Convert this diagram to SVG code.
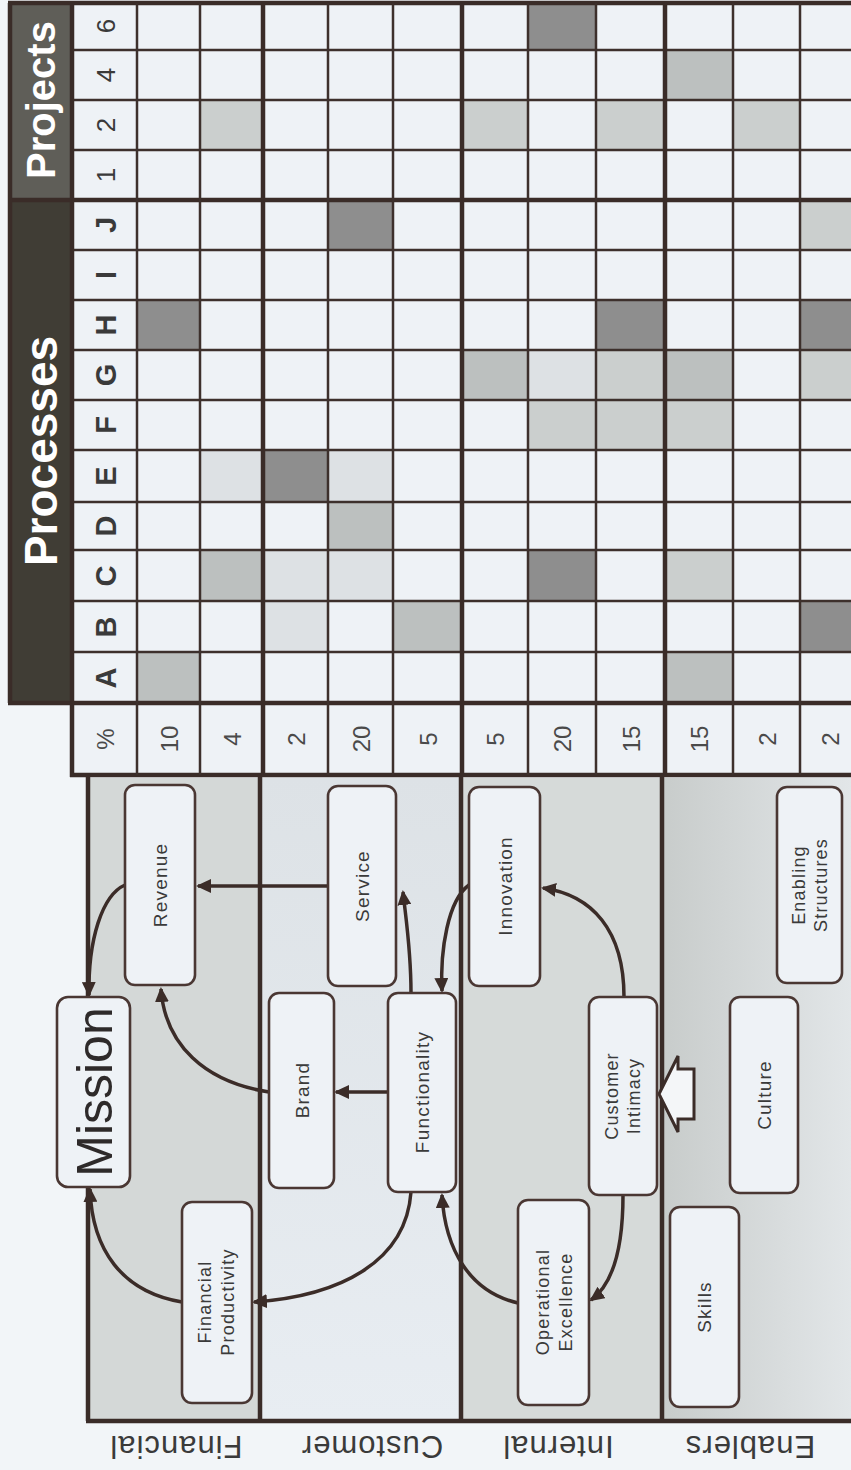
<svg xmlns="http://www.w3.org/2000/svg" width="851" height="1470" viewBox="0 0 851 1470">
<style>
text{font-family:"Liberation Sans",Arial,sans-serif;text-anchor:middle;dominant-baseline:central}
.hdr{fill:#ffffff;font-weight:bold}
.rl{fill:#3a3a3a;font-size:26px}
.rb{fill:#3a3a3a;font-size:29px;font-weight:bold}
.pv{fill:#4a4a4a;font-size:24px}
.lane{fill:#3a3a3a;font-size:31px;letter-spacing:1px}
.nt{fill:#3a3a3a;font-size:19px;letter-spacing:1.2px}
.nt2{fill:#3a3a3a;font-size:18px;letter-spacing:1.2px}
.thin{stroke:#3d302c;stroke-width:2.5;fill:none}
.thick{stroke:#3a2c28;stroke-width:4.5;fill:none}
.dk{fill:#8e8e8e}
.md{fill:#bcc0bf}
.lt{fill:#cbcfce}
.ft{fill:#dde1e4}
.box{fill:#eef2f6;stroke:#4a3733;stroke-width:2.6}
.conn{fill:none;stroke:#3b2c28;stroke-width:3.5}
</style>
<defs>
<marker id="ah" markerUnits="userSpaceOnUse" markerWidth="16" markerHeight="14" refX="13" refY="7" orient="auto">
<path d="M0,0 L15,7 L0,14 z" fill="#3b2c28"/>
</marker>
<linearGradient id="enb" x1="0" y1="0" x2="1" y2="0">
<stop offset="0" stop-color="#c8cccb"/>
<stop offset="1" stop-color="#e2e6e8"/>
</linearGradient>
<linearGradient id="cus" x1="0" y1="0" x2="0" y2="1">
<stop offset="0" stop-color="#dde2e6"/>
<stop offset="1" stop-color="#e8edf2"/>
</linearGradient>
</defs>
<rect x="0" y="0" width="851" height="1470" fill="#f2f5f8"/>

<g id="grid">
<rect x="10" y="3" width="62" height="197" fill="#5f5e58"/>
<rect x="10" y="200" width="62" height="503" fill="#403d35"/>
<text class="hdr" x="41" y="100" font-size="40" transform="rotate(-90 41 100)">Projects</text>
<text class="hdr" x="41" y="451" font-size="46" transform="rotate(-90 41 451)">Processes</text>
<rect x="72" y="3" width="790" height="772" fill="#eef2f6"/>
<!-- shaded cells -->
<rect class="dk" x="528" y="3" width="68" height="47"/>
<rect class="md" x="665" y="50" width="68" height="50"/>
<rect class="lt" x="200" y="100" width="63" height="50"/>
<rect class="lt" x="462" y="100" width="66" height="50"/>
<rect class="lt" x="596" y="100" width="69" height="50"/>
<rect class="lt" x="733" y="100" width="67" height="50"/>
<rect class="dk" x="328" y="200" width="65" height="50"/>
<rect class="lt" x="800" y="200" width="51" height="50"/>
<rect class="dk" x="137" y="300" width="63" height="50"/>
<rect class="dk" x="596" y="300" width="69" height="50"/>
<rect class="dk" x="800" y="300" width="51" height="50"/>
<rect class="md" x="462" y="350" width="66" height="50"/>
<rect class="ft" x="528" y="350" width="68" height="50"/>
<rect class="lt" x="596" y="350" width="69" height="50"/>
<rect class="md" x="665" y="350" width="68" height="50"/>
<rect class="lt" x="800" y="350" width="51" height="50"/>
<rect class="lt" x="528" y="400" width="68" height="50"/>
<rect class="lt" x="596" y="400" width="69" height="50"/>
<rect class="lt" x="665" y="400" width="68" height="50"/>
<rect class="ft" x="200" y="450" width="63" height="52"/>
<rect class="dk" x="263" y="450" width="65" height="52"/>
<rect class="ft" x="328" y="450" width="65" height="52"/>
<rect class="md" x="328" y="502" width="65" height="48"/>
<rect class="md" x="200" y="550" width="63" height="51"/>
<rect class="ft" x="263" y="550" width="65" height="51"/>
<rect class="ft" x="328" y="550" width="65" height="51"/>
<rect class="dk" x="528" y="550" width="68" height="51"/>
<rect class="lt" x="665" y="550" width="68" height="51"/>
<rect class="ft" x="263" y="601" width="65" height="51"/>
<rect class="md" x="393" y="601" width="69" height="51"/>
<rect class="dk" x="800" y="601" width="51" height="51"/>
<rect class="md" x="137" y="652" width="63" height="51"/>
<rect class="md" x="665" y="652" width="68" height="51"/>
<!-- horizontal lines -->
<path class="thin" d="M72,50H851M72,100H851M72,150H851M72,250H851M72,300H851M72,350H851M72,400H851M72,450H851M72,502H851M72,550H851M72,601H851M72,652H851"/>
<path class="thick" d="M8,3H851M8,200H851M8,703H851M70,775H851"/>
<!-- vertical lines -->
<path class="thin" d="M200,3V775M328,3V775M393,3V775M528,3V775M596,3V775M733,3V775M800,3V775"/>
<path class="thin" d="M137,3V775" stroke-width="3.2"/>
<path class="thick" d="M263,3V775M462,3V775M665,3V775M72,3V777M10,3V703"/>
<!-- row labels -->
<text class="rl" x="106" y="26" transform="rotate(-90 106 26)">6</text>
<text class="rl" x="106" y="75" transform="rotate(-90 106 75)">4</text>
<text class="rl" x="106" y="125" transform="rotate(-90 106 125)">2</text>
<text class="rl" x="106" y="175" transform="rotate(-90 106 175)">1</text>
<text class="rb" x="106" y="225" transform="rotate(-90 106 225)">J</text>
<text class="rb" x="106" y="275" transform="rotate(-90 106 275)">I</text>
<text class="rb" x="106" y="325" transform="rotate(-90 106 325)">H</text>
<text class="rb" x="106" y="375" transform="rotate(-90 106 375)">G</text>
<text class="rb" x="106" y="425" transform="rotate(-90 106 425)">F</text>
<text class="rb" x="106" y="476" transform="rotate(-90 106 476)">E</text>
<text class="rb" x="106" y="526" transform="rotate(-90 106 526)">D</text>
<text class="rb" x="106" y="576" transform="rotate(-90 106 576)">C</text>
<text class="rb" x="106" y="627" transform="rotate(-90 106 627)">B</text>
<text class="rb" x="106" y="678" transform="rotate(-90 106 678)">A</text>
<text class="pv" x="105" y="739" transform="rotate(-90 105 739)">%</text>
<text class="pv" x="169" y="739" transform="rotate(-90 169 739)">10</text>
<text class="pv" x="232" y="739" transform="rotate(-90 232 739)">4</text>
<text class="pv" x="296" y="739" transform="rotate(-90 296 739)">2</text>
<text class="pv" x="361" y="739" transform="rotate(-90 361 739)">20</text>
<text class="pv" x="428" y="739" transform="rotate(-90 428 739)">5</text>
<text class="pv" x="495" y="739" transform="rotate(-90 495 739)">5</text>
<text class="pv" x="562" y="739" transform="rotate(-90 562 739)">20</text>
<text class="pv" x="631" y="739" transform="rotate(-90 631 739)">15</text>
<text class="pv" x="699" y="739" transform="rotate(-90 699 739)">15</text>
<text class="pv" x="767" y="739" transform="rotate(-90 767 739)">2</text>
<text class="pv" x="830" y="739" transform="rotate(-90 830 739)">2</text>
</g>

<g id="lanes">
<rect x="88" y="778" width="172" height="642" fill="#d4d8d7"/>
<rect x="260" y="778" width="201" height="642" fill="url(#cus)"/>
<rect x="461" y="778" width="201" height="642" fill="#d6dad9"/>
<rect x="662" y="778" width="189" height="642" fill="url(#enb)"/>
<path class="thick" d="M88,777V1421M260,777V1421M461,777V1421M662,777V1421" stroke-width="3.5"/>
<path class="thick" d="M86,1421H851" stroke-width="4"/>
<text class="lane" x="176" y="1446" transform="rotate(180 176 1446)">Financial</text>
<text class="lane" x="372" y="1446" transform="rotate(180 372 1446)">Customer</text>
<text class="lane" x="558" y="1446" transform="rotate(180 558 1446)">Internal</text>
<text class="lane" x="750" y="1446" transform="rotate(180 750 1446)">Enablers</text>
</g>

<g id="connectors">
<path class="conn" marker-end="url(#ah)" d="M328,886 L198,886"/>
<path class="conn" marker-end="url(#ah)" d="M125,885 C102,895 88,940 89,995"/>
<path class="conn" marker-end="url(#ah)" d="M269,1092 C205,1082 165,1045 161,989"/>
<path class="conn" marker-end="url(#ah)" d="M388,1092 L336,1092"/>
<path class="conn" marker-end="url(#ah)" d="M411,993 C411,950 406,920 403,892"/>
<path class="conn" marker-end="url(#ah)" d="M469,885 C448,900 440,950 442,991"/>
<path class="conn" marker-end="url(#ah)" d="M624,997 C624,930 592,895 543,888"/>
<path class="conn" marker-end="url(#ah)" d="M411,1192 C406,1262 340,1296 254,1302"/>
<path class="conn" marker-end="url(#ah)" d="M182,1302 C122,1292 92,1250 90,1189"/>
<path class="conn" marker-end="url(#ah)" d="M518,1303 C470,1292 445,1250 442,1195"/>
<path class="conn" marker-end="url(#ah)" d="M623,1195 C623,1250 612,1285 591,1300"/>
<polygon points="659,1094 678,1056 678,1069 694,1069 694,1119 678,1119 678,1132" fill="#f4f6f8" stroke="#3b2c28" stroke-width="3" stroke-linejoin="miter"/>
</g>

<g id="mission">
<rect class="box" x="57" y="997" width="73" height="190" rx="11" stroke-width="4.5"/>
<text x="95" y="1092" font-size="50" fill="#2e2a2a" transform="rotate(-90 95 1092)">Mission</text>
</g>
<g id="revenue">
<rect class="box" x="125" y="785" width="70" height="200" rx="10"/>
<text class="nt" x="160" y="885" transform="rotate(-90 160 885)">Revenue</text>
</g>
<g id="service">
<rect class="box" x="328" y="786" width="68" height="200" rx="10"/>
<text class="nt" x="362" y="886" transform="rotate(-90 362 886)">Service</text>
</g>
<g id="innovation">
<rect class="box" x="469" y="787" width="71" height="199" rx="10"/>
<text class="nt" x="505" y="886" transform="rotate(-90 505 886)">Innovation</text>
</g>
<g id="enabling-structures">
<rect class="box" x="777" y="787" width="65" height="196" rx="10"/>
<text class="nt2" transform="rotate(-90 810 885)"><tspan x="810" y="874">Enabling</tspan><tspan x="810" y="896">Structures</tspan></text>
</g>
<g id="brand">
<rect class="box" x="269" y="993" width="65" height="195" rx="10"/>
<text class="nt" x="302" y="1090" transform="rotate(-90 302 1090)">Brand</text>
</g>
<g id="functionality">
<rect class="box" x="388" y="993" width="68" height="199" rx="10"/>
<text class="nt" x="422" y="1092" transform="rotate(-90 422 1092)">Functionality</text>
</g>
<g id="customer-intimacy">
<rect class="box" x="589" y="997" width="68" height="198" rx="10"/>
<text class="nt2" transform="rotate(-90 623 1096)"><tspan x="623" y="1085">Customer</tspan><tspan x="623" y="1107">Intimacy</tspan></text>
</g>
<g id="culture">
<rect class="box" x="730" y="997" width="68" height="196" rx="10"/>
<text class="nt" x="764" y="1095" transform="rotate(-90 764 1095)">Culture</text>
</g>
<g id="financial-productivity">
<rect class="box" x="182" y="1202" width="70" height="201" rx="10"/>
<text class="nt2" transform="rotate(-90 217 1302)"><tspan x="217" y="1290">Financial</tspan><tspan x="217" y="1313">Productivity</tspan></text>
</g>
<g id="operational-excellence">
<rect class="box" x="518" y="1200" width="71" height="205" rx="10"/>
<text class="nt2" transform="rotate(-90 555 1302)"><tspan x="555" y="1290">Operational</tspan><tspan x="555" y="1313">Excellence</tspan></text>
</g>
<g id="skills">
<rect class="box" x="670" y="1207" width="69" height="200" rx="10"/>
<text class="nt" x="704" y="1307" transform="rotate(-90 704 1307)">Skills</text>
</g>
</svg>
